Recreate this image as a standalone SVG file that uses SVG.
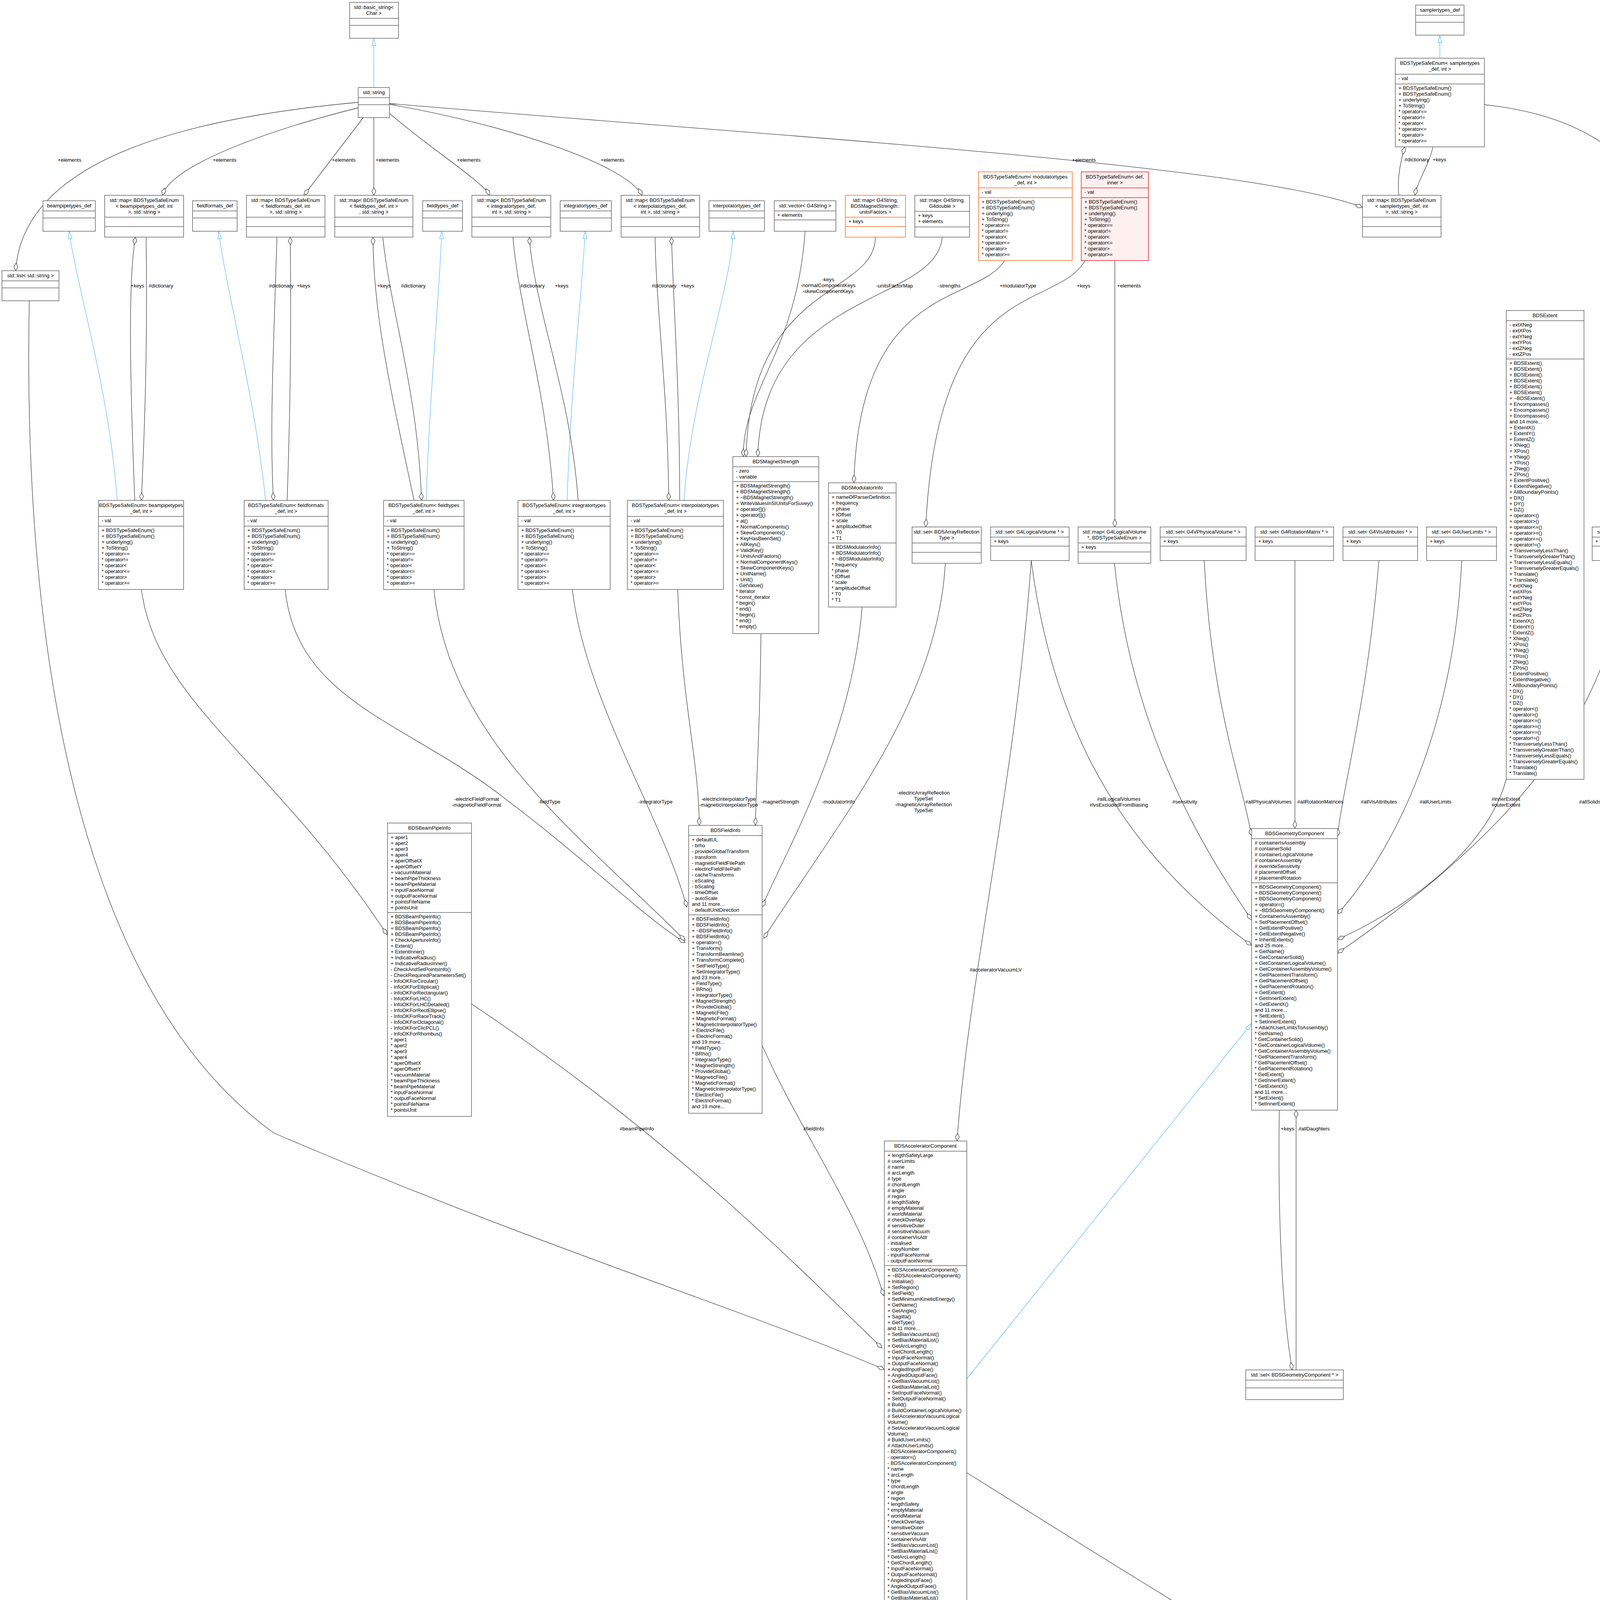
<svg xmlns="http://www.w3.org/2000/svg" width="5002" height="6444" viewBox="0 0 5002 6444">
<defs>
<style>
text{font-family:"Liberation Sans",Arial,sans-serif;font-size:13px;fill:#000}
.c{text-anchor:middle}
rect{fill:#fff;stroke:#666;stroke-width:1.5}
line{stroke:#666;stroke-width:1.5}
.or rect,.or line{stroke:#ff6a1f}
.rd rect{stroke:#e8232d;fill:#fff0f0}.rd line{stroke:#e8232d}
.gr rect{fill:#9a9a9a}
.e path{fill:none;stroke:#404040;stroke-width:1.3;marker-end:url(#dm)}
.i path{fill:none;stroke:#63b8ff;stroke-width:1.3;marker-end:url(#tr)}
.l{text-anchor:middle}
</style>
<marker id="dm" markerUnits="userSpaceOnUse" viewBox="0 0 22 12" refX="21" refY="6" markerWidth="22" markerHeight="12" orient="auto"><path d="M1,6 L11,1 L21,6 L11,11 Z" fill="#fff" stroke="#404040" stroke-width="1.3"/></marker>
<marker id="tr" markerUnits="userSpaceOnUse" viewBox="0 0 20 12" refX="19" refY="6" markerWidth="20" markerHeight="12" orient="auto"><path d="M1,1 L19,6 L1,11 Z" fill="#fff" stroke="#63b8ff" stroke-width="1.3"/></marker>
</defs>
<rect x="0" y="0" width="5002" height="6444" style="fill:#fff;stroke:none"/>

<g id="connectors">
<g class="i">
<path d="M957,224 L957,99"/>
<path d="M300,1281 C280,1000 200,750 177,593"/>
<path d="M680,1281 C650,1000 580,750 560,593"/>
<path d="M1091,1281 C1100,1000 1125,750 1131,593"/>
<path d="M1452,1281 C1460,1000 1490,750 1498,593"/>
<path d="M1751,1281 C1770,1000 1870,750 1877,593"/>
<path d="M3686,149 L3686,91"/>
<path d="M2475,3530 L3204,2620"/>
<path d="M2364,4788 L2364,4169"/>
</g>
<g class="e">
<path d="M917,262 C500,300 60,400 40,693"/>
<path d="M917,276 C700,330 440,420 416,500"/>
<path d="M930,301 L778,500"/>
<path d="M957,301 L957,500"/>
<path d="M997,290 C1100,380 1230,460 1254,500"/>
<path d="M997,267 C1300,320 1600,420 1644,500"/>
<path d="M997,265 C2000,350 3200,420 3488,531"/>
<path d="M345,1281 C330,900 330,700 347,607"/>
<path d="M374,607 C378,900 370,1100 362,1281"/>
<path d="M709,607 C700,900 690,1100 700,1281"/>
<path d="M735,1281 C745,1000 745,800 743,607"/>
<path d="M1060,1281 C1000,1000 955,800 955,607"/>
<path d="M980,607 C1000,800 1070,1000 1079,1281"/>
<path d="M1313,607 C1330,800 1400,1000 1417,1281"/>
<path d="M1480,1281 C1460,1000 1370,800 1355,607"/>
<path d="M1677,607 C1680,800 1710,1000 1712,1281"/>
<path d="M1740,1281 C1740,1000 1725,800 1719,607"/>
<path d="M2061,592 C2040,900 1900,1000 1903,1169"/>
<path d="M2241,607 C2240,760 1920,720 1910,1169"/>
<path d="M2412,607 C2400,780 1950,740 1940,1169"/>
<path d="M2572,667 C2500,780 2200,720 2186,1236"/>
<path d="M2778,667 C2700,800 2400,700 2370,1349"/>
<path d="M2854,667 L2854,1349"/>
<path d="M3581,500 C3575,450 3590,400 3596,376"/>
<path d="M3668,376 C3660,420 3630,460 3622,500"/>
<path d="M3800,268 C4100,300 4271,450 4271,700 L4271,5500 C4271,5560 4290,5570 4300,5590"/>
<path d="M1948,1622 C1945,1900 1935,2000 1934,2113"/>
<path d="M2207,1554 C2180,1900 2000,2200 1951,2322"/>
<path d="M2420,1442 C2400,1800 2150,2100 1955,2402"/>
<path d="M730,1509 C760,1800 1050,1850 1300,2050 C1500,2200 1650,2350 1754,2413"/>
<path d="M1111,1509 C1150,1900 1500,2150 1754,2408"/>
<path d="M1465,1509 C1500,1800 1700,2100 1758,2322"/>
<path d="M1735,1509 C1745,1800 1790,1950 1790,2113"/>
<path d="M362,1509 C400,1800 700,1950 991,2393"/>
<path d="M1207,2570 C1700,2900 2000,3200 2258,3451"/>
<path d="M1951,2676 C2050,2900 2200,3100 2262,3317"/>
<path d="M75,770 C60,1500 150,2500 700,2900 C1400,3200 1900,3350 2264,3506"/>
<path d="M2640,1435 C2600,2000 2480,2500 2450,2921"/>
<path d="M2640,1435 C2700,1900 2900,2200 3204,2420"/>
<path d="M2853,1442 C2900,1900 3100,2200 3204,2355"/>
<path d="M3083,1435 C3100,1800 3180,2000 3204,2140"/>
<path d="M3315,1435 L3315,2121"/>
<path d="M3530,1435 C3500,1800 3440,2000 3424,2141"/>
<path d="M3742,1435 C3720,1900 3550,2200 3424,2340"/>
<path d="M3856,1995 C3800,2200 3550,2350 3424,2405"/>
<path d="M4152,1435 C4150,1900 3700,2250 3424,2440"/>
<path d="M3275,2842 C3270,3200 3290,3400 3308,3507"/>
<path d="M3318,3507 C3318,3200 3318,3000 3318,2842"/>
<path d="M2475,3770 C3000,4100 3800,4600 4309,4816"/>
<path d="M2372,4788 L2372,4168"/>
<path d="M4436,3696 L4436,4248"/>
<path d="M4312,5511 C4310,5560 4307,5570 4306,5590"/>
<path d="M4388,5595 C4420,5570 4420,5540 4423,5511"/>
<path d="M4511,5511 L4518,5619"/>
<path d="M4562,5300 C4620,5420 4700,5560 4702,5619"/>
<path d="M4541,5711 L4617,5876"/>
<path d="M4722,5711 L4722,5805"/>
<path d="M4900,5704 L4827,5866"/>
</g>
<g>
<text class="l" x="178" y="414">+elements</text>
<text class="l" x="575" y="414">+elements</text>
<text class="l" x="880" y="414">+elements</text>
<text class="l" x="992" y="414">+elements</text>
<text class="l" x="1200" y="414">+elements</text>
<text class="l" x="1568" y="414">+elements</text>
<text class="l" x="2775" y="414">+elements</text>
<text class="l" x="352" y="736">+keys</text>
<text class="l" x="412" y="736">#dictionary</text>
<text class="l" x="720" y="736">#dictionary</text>
<text class="l" x="777" y="736">+keys</text>
<text class="l" x="983" y="736">+keys</text>
<text class="l" x="1058" y="736">#dictionary</text>
<text class="l" x="1363" y="736">#dictionary</text>
<text class="l" x="1438" y="736">+keys</text>
<text class="l" x="1700" y="736">#dictionary</text>
<text class="l" x="1760" y="736">+keys</text>
<text class="l" x="2120" y="720">-keys</text>
<text class="l" x="2120" y="735">-normalComponentKeys</text>
<text class="l" x="2120" y="750">-skewComponentKeys</text>
<text class="l" x="2290" y="736">-unitsFactorMap</text>
<text class="l" x="2430" y="736">-strengths</text>
<text class="l" x="2606" y="736">+modulatorType</text>
<text class="l" x="2774" y="736">+keys</text>
<text class="l" x="2890" y="736">+elements</text>
<text class="l" x="3627" y="413">#dictionary</text>
<text class="l" x="3685" y="413">+keys</text>
<text x="4274" y="2487">+samplerType</text>
<text class="l" x="1220" y="2050">-electricFieldFormat</text>
<text class="l" x="1220" y="2065">-magneticFieldFormat</text>
<text class="l" x="1406" y="2057">-fieldType</text>
<text class="l" x="1678" y="2057">-integratorType</text>
<text class="l" x="1865" y="2050">-electricInterpolatorType</text>
<text class="l" x="1865" y="2065">-magneticInterpolatorType</text>
<text class="l" x="1997" y="2057">-magnetStrength</text>
<text class="l" x="2146" y="2057">-modulatorInfo</text>
<text class="l" x="2364" y="2034">-electricArrayReflection</text>
<text class="l" x="2364" y="2049">TypeSet</text>
<text class="l" x="2364" y="2064">-magneticArrayReflection</text>
<text class="l" x="2364" y="2079">TypeSet</text>
<text class="l" x="2549" y="2487">#acceleratorVacuumLV</text>
<text class="l" x="2864" y="2050">#allLogicalVolumes</text>
<text class="l" x="2864" y="2065">#lvsExcludedFromBiasing</text>
<text class="l" x="3033" y="2057">#sensitivity</text>
<text class="l" x="3247" y="2057">#allPhysicalVolumes</text>
<text class="l" x="3380" y="2057">#allRotationMatrices</text>
<text class="l" x="3530" y="2057">#allVisAttributes</text>
<text class="l" x="3675" y="2057">#allUserLimits</text>
<text class="l" x="3855" y="2050">#innerExtent</text>
<text class="l" x="3855" y="2065">#outerExtent</text>
<text class="l" x="4070" y="2057">#allSolids</text>
<text class="l" x="1630" y="2894">#beamPipeInfo</text>
<text class="l" x="2083" y="2894">#fieldInfo</text>
<text class="l" x="3296" y="2894">+keys</text>
<text class="l" x="3364" y="2894">#allDaughters</text>
<text class="l" x="3282" y="4213">-component</text>
<text x="2380" y="4200">#endPieceAfter</text>
<text x="2380" y="4215">#endPieceBefore</text>
<text x="4442" y="4213">-tiltOffset</text>
<text x="4315" y="5547">+finishElement</text>
<text x="4315" y="5562">+startElement</text>
<text x="4420" y="5555">-samplerInfo</text>
<text x="4520" y="5555">+elements</text>
<text x="4685" y="5555">+elements</text>
<text x="4575" y="5778">-components</text>
<text x="4727" y="5778">-beamline</text>
<text x="4872" y="5778">-sEnd</text>
</g>
</g>

<g id="basic_string"><rect x="895" y="6" width="125" height="92"/><line x1="895" y1="47" x2="1020" y2="47"/><line x1="895" y1="65" x2="1020" y2="65"/><text class="c" x="957" y="23">std::basic_string&lt;</text><text class="c" x="957" y="38">Char &gt;</text></g>
<g id="string"><rect x="917" y="224" width="80" height="77"/><line x1="917" y1="250" x2="997" y2="250"/><line x1="917" y1="268" x2="997" y2="268"/><text class="c" x="957" y="241">std::string</text></g>
<g id="list_string"><rect x="5" y="693" width="146" height="77"/><line x1="5" y1="719" x2="151" y2="719"/><line x1="5" y1="737" x2="151" y2="737"/><text class="c" x="78" y="710">std::list&lt; std::string &gt;</text></g>
<g id="beampipetypes_def"><rect x="110" y="514" width="134" height="78"/><line x1="110" y1="540" x2="244" y2="540"/><line x1="110" y1="558" x2="244" y2="558"/><text class="c" x="177" y="531">beampipetypes_def</text></g>
<g id="map_bp"><rect x="268" y="500" width="202" height="107"/><line x1="268" y1="556" x2="470" y2="556"/><line x1="268" y1="580" x2="470" y2="580"/><text class="c" x="369" y="517">std::map&lt; BDSTypeSafeEnum</text><text class="c" x="369" y="532">&lt; beampipetypes_def, int</text><text class="c" x="369" y="547">&gt;, std::string &gt;</text></g>
<g id="fieldformats_def"><rect x="493" y="514" width="114" height="78"/><line x1="493" y1="540" x2="607" y2="540"/><line x1="493" y1="558" x2="607" y2="558"/><text class="c" x="550" y="531">fieldformats_def</text></g>
<g id="map_ff"><rect x="631" y="500" width="201" height="107"/><line x1="631" y1="556" x2="832" y2="556"/><line x1="631" y1="580" x2="832" y2="580"/><text class="c" x="731" y="517">std::map&lt; BDSTypeSafeEnum</text><text class="c" x="731" y="532">&lt; fieldformats_def, int</text><text class="c" x="731" y="547">&gt;, std::string &gt;</text></g>
<g id="map_ft"><rect x="857" y="500" width="200" height="107"/><line x1="857" y1="556" x2="1057" y2="556"/><line x1="857" y1="580" x2="1057" y2="580"/><text class="c" x="957" y="517">std::map&lt; BDSTypeSafeEnum</text><text class="c" x="957" y="532">&lt; fieldtypes_def, int &gt;</text><text class="c" x="957" y="547">, std::string &gt;</text></g>
<g id="fieldtypes_def"><rect x="1082" y="514" width="102" height="78"/><line x1="1082" y1="540" x2="1184" y2="540"/><line x1="1082" y1="558" x2="1184" y2="558"/><text class="c" x="1133" y="531">fieldtypes_def</text></g>
<g id="map_it"><rect x="1208" y="500" width="202" height="107"/><line x1="1208" y1="556" x2="1410" y2="556"/><line x1="1208" y1="580" x2="1410" y2="580"/><text class="c" x="1309" y="517">std::map&lt; BDSTypeSafeEnum</text><text class="c" x="1309" y="532">&lt; integratortypes_def,</text><text class="c" x="1309" y="547">int &gt;, std::string &gt;</text></g>
<g id="integratortypes_def"><rect x="1434" y="514" width="131" height="78"/><line x1="1434" y1="540" x2="1565" y2="540"/><line x1="1434" y1="558" x2="1565" y2="558"/><text class="c" x="1499" y="531">integratortypes_def</text></g>
<g id="map_ip"><rect x="1590" y="500" width="201" height="107"/><line x1="1590" y1="556" x2="1791" y2="556"/><line x1="1590" y1="580" x2="1791" y2="580"/><text class="c" x="1690" y="517">std::map&lt; BDSTypeSafeEnum</text><text class="c" x="1690" y="532">&lt; interpolatortypes_def,</text><text class="c" x="1690" y="547">int &gt;, std::string &gt;</text></g>
<g id="interpolatortypes_def"><rect x="1815" y="514" width="142" height="78"/><line x1="1815" y1="540" x2="1957" y2="540"/><line x1="1815" y1="558" x2="1957" y2="558"/><text class="c" x="1886" y="531">interpolatortypes_def</text></g>
<g id="vector_G4String"><rect x="1982" y="514" width="158" height="78"/><line x1="1982" y1="540" x2="2140" y2="540"/><line x1="1982" y1="563" x2="2140" y2="563"/><text class="c" x="2061" y="531">std::vector&lt; G4String &gt;</text><text x="1990" y="555">+ elements</text></g>
<g id="map_units" class="or"><rect x="2164" y="500" width="154" height="107"/><line x1="2164" y1="556" x2="2318" y2="556"/><line x1="2164" y1="580" x2="2318" y2="580"/><text class="c" x="2241" y="517">std::map&lt; G4String,</text><text class="c" x="2241" y="532">BDSMagnetStrength::</text><text class="c" x="2241" y="547">unitsFactors &gt;</text><text x="2172" y="571">+ keys</text></g>
<g id="map_double"><rect x="2342" y="500" width="140" height="107"/><line x1="2342" y1="541" x2="2482" y2="541"/><line x1="2342" y1="581" x2="2482" y2="581"/><text class="c" x="2412" y="517">std::map&lt; G4String,</text><text class="c" x="2412" y="532">G4double &gt;</text><text x="2350" y="556">+ keys</text><text x="2350" y="571">+ elements</text></g>
<g id="enum_modulator" class="or"><rect x="2505" y="440" width="240" height="227"/><line x1="2505" y1="481" x2="2745" y2="481"/><line x1="2505" y1="506" x2="2745" y2="506"/><text class="c" x="2625" y="457">BDSTypeSafeEnum&lt; modulatortypes</text><text class="c" x="2625" y="472">_def, int &gt;</text><text x="2513" y="496">- val</text><text x="2513" y="506"><tspan x="2513" dy="15">+ BDSTypeSafeEnum()</tspan><tspan x="2513" dy="15">+ BDSTypeSafeEnum()</tspan><tspan x="2513" dy="15">+ underlying()</tspan><tspan x="2513" dy="15">+ ToString()</tspan><tspan x="2513" dy="15">* operator==</tspan><tspan x="2513" dy="15">* operator!=</tspan><tspan x="2513" dy="15">* operator&lt;</tspan><tspan x="2513" dy="15">* operator&lt;=</tspan><tspan x="2513" dy="15">* operator&gt;</tspan><tspan x="2513" dy="15">* operator&gt;=</tspan></text></g>
<g id="enum_def_inner" class="rd"><rect x="2768" y="440" width="172" height="227"/><line x1="2768" y1="481" x2="2940" y2="481"/><line x1="2768" y1="506" x2="2940" y2="506"/><text class="c" x="2854" y="457">BDSTypeSafeEnum&lt; def,</text><text class="c" x="2854" y="472">inner &gt;</text><text x="2776" y="496">- val</text><text x="2776" y="506"><tspan x="2776" dy="15">+ BDSTypeSafeEnum()</tspan><tspan x="2776" dy="15">+ BDSTypeSafeEnum()</tspan><tspan x="2776" dy="15">+ underlying()</tspan><tspan x="2776" dy="15">+ ToString()</tspan><tspan x="2776" dy="15">* operator==</tspan><tspan x="2776" dy="15">* operator!=</tspan><tspan x="2776" dy="15">* operator&lt;</tspan><tspan x="2776" dy="15">* operator&lt;=</tspan><tspan x="2776" dy="15">* operator&gt;</tspan><tspan x="2776" dy="15">* operator&gt;=</tspan></text></g>
<g id="samplertypes_def"><rect x="3624" y="13" width="124" height="77"/><line x1="3624" y1="39" x2="3748" y2="39"/><line x1="3624" y1="57" x2="3748" y2="57"/><text class="c" x="3686" y="30">samplertypes_def</text></g>
<g id="enum_sampler"><rect x="3572" y="149" width="228" height="227"/><line x1="3572" y1="190" x2="3800" y2="190"/><line x1="3572" y1="215" x2="3800" y2="215"/><text class="c" x="3686" y="166">BDSTypeSafeEnum&lt; samplertypes</text><text class="c" x="3686" y="181">_def, int &gt;</text><text x="3580" y="205">- val</text><text x="3580" y="215"><tspan x="3580" dy="15">+ BDSTypeSafeEnum()</tspan><tspan x="3580" dy="15">+ BDSTypeSafeEnum()</tspan><tspan x="3580" dy="15">+ underlying()</tspan><tspan x="3580" dy="15">+ ToString()</tspan><tspan x="3580" dy="15">* operator==</tspan><tspan x="3580" dy="15">* operator!=</tspan><tspan x="3580" dy="15">* operator&lt;</tspan><tspan x="3580" dy="15">* operator&lt;=</tspan><tspan x="3580" dy="15">* operator&gt;</tspan><tspan x="3580" dy="15">* operator&gt;=</tspan></text></g>
<g id="map_samp"><rect x="3488" y="500" width="201" height="107"/><line x1="3488" y1="556" x2="3689" y2="556"/><line x1="3488" y1="580" x2="3689" y2="580"/><text class="c" x="3588" y="517">std::map&lt; BDSTypeSafeEnum</text><text class="c" x="3588" y="532">&lt; samplertypes_def, int</text><text class="c" x="3588" y="547">&gt;, std::string &gt;</text></g>

<g id="enum_bp"><rect x="252" y="1281" width="218" height="228"/><line x1="252" y1="1322" x2="470" y2="1322"/><line x1="252" y1="1347" x2="470" y2="1347"/><text class="c" x="361" y="1298">BDSTypeSafeEnum&lt; beampipetypes</text><text class="c" x="361" y="1313">_def, int &gt;</text><text x="260" y="1337">- val</text><text x="260" y="1347"><tspan x="260" dy="15">+ BDSTypeSafeEnum()</tspan><tspan x="260" dy="15">+ BDSTypeSafeEnum()</tspan><tspan x="260" dy="15">+ underlying()</tspan><tspan x="260" dy="15">+ ToString()</tspan><tspan x="260" dy="15">* operator==</tspan><tspan x="260" dy="15">* operator!=</tspan><tspan x="260" dy="15">* operator&lt;</tspan><tspan x="260" dy="15">* operator&lt;=</tspan><tspan x="260" dy="15">* operator&gt;</tspan><tspan x="260" dy="15">* operator&gt;=</tspan></text></g>
<g id="enum_ff"><rect x="625" y="1281" width="215" height="228"/><line x1="625" y1="1322" x2="840" y2="1322"/><line x1="625" y1="1347" x2="840" y2="1347"/><text class="c" x="732" y="1298">BDSTypeSafeEnum&lt; fieldformats</text><text class="c" x="732" y="1313">_def, int &gt;</text><text x="633" y="1337">- val</text><text x="633" y="1347"><tspan x="633" dy="15">+ BDSTypeSafeEnum()</tspan><tspan x="633" dy="15">+ BDSTypeSafeEnum()</tspan><tspan x="633" dy="15">+ underlying()</tspan><tspan x="633" dy="15">+ ToString()</tspan><tspan x="633" dy="15">* operator==</tspan><tspan x="633" dy="15">* operator!=</tspan><tspan x="633" dy="15">* operator&lt;</tspan><tspan x="633" dy="15">* operator&lt;=</tspan><tspan x="633" dy="15">* operator&gt;</tspan><tspan x="633" dy="15">* operator&gt;=</tspan></text></g>
<g id="enum_ft"><rect x="982" y="1281" width="206" height="228"/><line x1="982" y1="1322" x2="1188" y2="1322"/><line x1="982" y1="1347" x2="1188" y2="1347"/><text class="c" x="1085" y="1298">BDSTypeSafeEnum&lt; fieldtypes</text><text class="c" x="1085" y="1313">_def, int &gt;</text><text x="990" y="1337">- val</text><text x="990" y="1347"><tspan x="990" dy="15">+ BDSTypeSafeEnum()</tspan><tspan x="990" dy="15">+ BDSTypeSafeEnum()</tspan><tspan x="990" dy="15">+ underlying()</tspan><tspan x="990" dy="15">+ ToString()</tspan><tspan x="990" dy="15">* operator==</tspan><tspan x="990" dy="15">* operator!=</tspan><tspan x="990" dy="15">* operator&lt;</tspan><tspan x="990" dy="15">* operator&lt;=</tspan><tspan x="990" dy="15">* operator&gt;</tspan><tspan x="990" dy="15">* operator&gt;=</tspan></text></g>
<g id="enum_it"><rect x="1326" y="1281" width="236" height="228"/><line x1="1326" y1="1322" x2="1562" y2="1322"/><line x1="1326" y1="1347" x2="1562" y2="1347"/><text class="c" x="1444" y="1298">BDSTypeSafeEnum&lt; integratortypes</text><text class="c" x="1444" y="1313">_def, int &gt;</text><text x="1334" y="1337">- val</text><text x="1334" y="1347"><tspan x="1334" dy="15">+ BDSTypeSafeEnum()</tspan><tspan x="1334" dy="15">+ BDSTypeSafeEnum()</tspan><tspan x="1334" dy="15">+ underlying()</tspan><tspan x="1334" dy="15">+ ToString()</tspan><tspan x="1334" dy="15">* operator==</tspan><tspan x="1334" dy="15">* operator!=</tspan><tspan x="1334" dy="15">* operator&lt;</tspan><tspan x="1334" dy="15">* operator&lt;=</tspan><tspan x="1334" dy="15">* operator&gt;</tspan><tspan x="1334" dy="15">* operator&gt;=</tspan></text></g>
<g id="enum_ip"><rect x="1606" y="1281" width="246" height="228"/><line x1="1606" y1="1322" x2="1852" y2="1322"/><line x1="1606" y1="1347" x2="1852" y2="1347"/><text class="c" x="1729" y="1298">BDSTypeSafeEnum&lt; interpolatortypes</text><text class="c" x="1729" y="1313">_def, int &gt;</text><text x="1614" y="1337">- val</text><text x="1614" y="1347"><tspan x="1614" dy="15">+ BDSTypeSafeEnum()</tspan><tspan x="1614" dy="15">+ BDSTypeSafeEnum()</tspan><tspan x="1614" dy="15">+ underlying()</tspan><tspan x="1614" dy="15">+ ToString()</tspan><tspan x="1614" dy="15">* operator==</tspan><tspan x="1614" dy="15">* operator!=</tspan><tspan x="1614" dy="15">* operator&lt;</tspan><tspan x="1614" dy="15">* operator&lt;=</tspan><tspan x="1614" dy="15">* operator&gt;</tspan><tspan x="1614" dy="15">* operator&gt;=</tspan></text></g>

<g id="BDSMagnetStrength"><rect x="1876" y="1169" width="220" height="453"/><line x1="1876" y1="1195" x2="2096" y2="1195"/><line x1="1876" y1="1233" x2="2096" y2="1233"/><text class="c" x="1986" y="1186">BDSMagnetStrength</text><text x="1884" y="1210">- zero<tspan x="1884" dy="15">- variable</tspan></text><text x="1884" y="1233"><tspan x="1884" dy="15">+ BDSMagnetStrength()</tspan><tspan x="1884" dy="15">+ BDSMagnetStrength()</tspan><tspan x="1884" dy="15">+ ~BDSMagnetStrength()</tspan><tspan x="1884" dy="15">+ WriteValuesInSIUnitsForSuvey()</tspan><tspan x="1884" dy="15">+ operator[]()</tspan><tspan x="1884" dy="15">+ operator[]()</tspan><tspan x="1884" dy="15">+ at()</tspan><tspan x="1884" dy="15">+ NormalComponents()</tspan><tspan x="1884" dy="15">+ SkewComponents()</tspan><tspan x="1884" dy="15">+ KeyHasBeenSet()</tspan><tspan x="1884" dy="15">+ AllKeys()</tspan><tspan x="1884" dy="15">+ ValidKey()</tspan><tspan x="1884" dy="15">+ UnitsAndFactors()</tspan><tspan x="1884" dy="15">+ NormalComponentKeys()</tspan><tspan x="1884" dy="15">+ SkewComponentKeys()</tspan><tspan x="1884" dy="15">+ UnitName()</tspan><tspan x="1884" dy="15">+ Unit()</tspan><tspan x="1884" dy="15">- GetValue()</tspan><tspan x="1884" dy="15">* iterator</tspan><tspan x="1884" dy="15">* const_iterator</tspan><tspan x="1884" dy="15">* begin()</tspan><tspan x="1884" dy="15">* end()</tspan><tspan x="1884" dy="15">* begin()</tspan><tspan x="1884" dy="15">* end()</tspan><tspan x="1884" dy="15">* empty()</tspan></text></g>
<g id="BDSModulatorInfo"><rect x="2121" y="1236" width="173" height="318"/><line x1="2121" y1="1262" x2="2294" y2="1262"/><line x1="2121" y1="1390" x2="2294" y2="1390"/><text class="c" x="2207" y="1253">BDSModulatorInfo</text><text x="2129" y="1262"><tspan x="2129" dy="15">+ nameOfParserDefinition</tspan><tspan x="2129" dy="15">+ frequency</tspan><tspan x="2129" dy="15">+ phase</tspan><tspan x="2129" dy="15">+ tOffset</tspan><tspan x="2129" dy="15">+ scale</tspan><tspan x="2129" dy="15">+ amplitudeOffset</tspan><tspan x="2129" dy="15">+ T0</tspan><tspan x="2129" dy="15">+ T1</tspan></text><text x="2129" y="1390"><tspan x="2129" dy="15">+ BDSModulatorInfo()</tspan><tspan x="2129" dy="15">+ BDSModulatorInfo()</tspan><tspan x="2129" dy="15">+ ~BDSModulatorInfo()</tspan><tspan x="2129" dy="15">* frequency</tspan><tspan x="2129" dy="15">* phase</tspan><tspan x="2129" dy="15">* tOffset</tspan><tspan x="2129" dy="15">* scale</tspan><tspan x="2129" dy="15">* amplitudeOffset</tspan><tspan x="2129" dy="15">* T0</tspan><tspan x="2129" dy="15">* T1</tspan></text></g>
<g id="set_ArrayRefl"><rect x="2335" y="1349" width="177" height="93"/><line x1="2335" y1="1390" x2="2512" y2="1390"/><line x1="2335" y1="1414" x2="2512" y2="1414"/><text class="c" x="2423" y="1366">std::set&lt; BDSArrayReflection</text><text class="c" x="2423" y="1381">Type &gt;</text></g>
<g id="set_LV"><rect x="2536" y="1349" width="201" height="86"/><line x1="2536" y1="1375" x2="2737" y2="1375"/><line x1="2536" y1="1398" x2="2737" y2="1398"/><text class="c" x="2636" y="1366">std::set&lt; G4LogicalVolume * &gt;</text><text x="2544" y="1390">+ keys</text></g>
<g id="map_LV_enum"><rect x="2760" y="1349" width="186" height="93"/><line x1="2760" y1="1390" x2="2946" y2="1390"/><line x1="2760" y1="1413" x2="2946" y2="1413"/><text class="c" x="2853" y="1366">std::map&lt; G4LogicalVolume</text><text class="c" x="2853" y="1381">*, BDSTypeSafeEnum &gt;</text><text x="2768" y="1405">+ keys</text></g>
<g id="set_PV"><rect x="2970" y="1349" width="220" height="86"/><line x1="2970" y1="1375" x2="3190" y2="1375"/><line x1="2970" y1="1398" x2="3190" y2="1398"/><text class="c" x="3080" y="1366">std::set&lt; G4VPhysicalVolume * &gt;</text><text x="2978" y="1390">+ keys</text></g>
<g id="set_Rot"><rect x="3213" y="1349" width="201" height="86"/><line x1="3213" y1="1375" x2="3414" y2="1375"/><line x1="3213" y1="1398" x2="3414" y2="1398"/><text class="c" x="3313" y="1366">std::set&lt; G4RotationMatrix * &gt;</text><text x="3221" y="1390">+ keys</text></g>
<g id="set_Vis"><rect x="3438" y="1349" width="191" height="86"/><line x1="3438" y1="1375" x2="3629" y2="1375"/><line x1="3438" y1="1398" x2="3629" y2="1398"/><text class="c" x="3533" y="1366">std::set&lt; G4VisAttributes * &gt;</text><text x="3446" y="1390">+ keys</text></g>
<g id="set_UL"><rect x="3652" y="1349" width="179" height="86"/><line x1="3652" y1="1375" x2="3831" y2="1375"/><line x1="3652" y1="1398" x2="3831" y2="1398"/><text class="c" x="3741" y="1366">std::set&lt; G4UserLimits * &gt;</text><text x="3660" y="1390">+ keys</text></g>
<g id="set_Solid"><rect x="4076" y="1349" width="154" height="86"/><line x1="4076" y1="1375" x2="4230" y2="1375"/><line x1="4076" y1="1398" x2="4230" y2="1398"/><text class="c" x="4153" y="1366">std::set&lt; G4VSolid * &gt;</text><text x="4084" y="1390">+ keys</text></g>

<g id="BDSExtent"><rect x="3856" y="795" width="199" height="1200"/><line x1="3856" y1="821" x2="4055" y2="821"/><line x1="3856" y1="919" x2="4055" y2="919"/><text class="c" x="3955" y="812">BDSExtent</text><text x="3864" y="821"><tspan x="3864" dy="15">- extXNeg</tspan><tspan x="3864" dy="15">- extXPos</tspan><tspan x="3864" dy="15">- extYNeg</tspan><tspan x="3864" dy="15">- extYPos</tspan><tspan x="3864" dy="15">- extZNeg</tspan><tspan x="3864" dy="15">- extZPos</tspan></text><text x="3864" y="919"><tspan x="3864" dy="15">+ BDSExtent()</tspan><tspan x="3864" dy="15">+ BDSExtent()</tspan><tspan x="3864" dy="15">+ BDSExtent()</tspan><tspan x="3864" dy="15">+ BDSExtent()</tspan><tspan x="3864" dy="15">+ BDSExtent()</tspan><tspan x="3864" dy="15">+ BDSExtent()</tspan><tspan x="3864" dy="15">+ ~BDSExtent()</tspan><tspan x="3864" dy="15">+ Encompasses()</tspan><tspan x="3864" dy="15">+ Encompasses()</tspan><tspan x="3864" dy="15">+ Encompasses()</tspan><tspan x="3864" dy="15">and 14 more...</tspan><tspan x="3864" dy="15">+ ExtentX()</tspan><tspan x="3864" dy="15">+ ExtentY()</tspan><tspan x="3864" dy="15">+ ExtentZ()</tspan><tspan x="3864" dy="15">+ XNeg()</tspan><tspan x="3864" dy="15">+ XPos()</tspan><tspan x="3864" dy="15">+ YNeg()</tspan><tspan x="3864" dy="15">+ YPos()</tspan><tspan x="3864" dy="15">+ ZNeg()</tspan><tspan x="3864" dy="15">+ ZPos()</tspan><tspan x="3864" dy="15">+ ExtentPositive()</tspan><tspan x="3864" dy="15">+ ExtentNegative()</tspan><tspan x="3864" dy="15">+ AllBoundaryPoints()</tspan><tspan x="3864" dy="15">+ DX()</tspan><tspan x="3864" dy="15">+ DY()</tspan><tspan x="3864" dy="15">+ DZ()</tspan><tspan x="3864" dy="15">+ operator&lt;()</tspan><tspan x="3864" dy="15">+ operator&gt;()</tspan><tspan x="3864" dy="15">+ operator&lt;=()</tspan><tspan x="3864" dy="15">+ operator&gt;=()</tspan><tspan x="3864" dy="15">+ operator==()</tspan><tspan x="3864" dy="15">+ operator!=()</tspan><tspan x="3864" dy="15">+ TransverselyLessThan()</tspan><tspan x="3864" dy="15">+ TransverselyGreaterThan()</tspan><tspan x="3864" dy="15">+ TransverselyLessEquals()</tspan><tspan x="3864" dy="15">+ TransverselyGreaterEquals()</tspan><tspan x="3864" dy="15">+ Translate()</tspan><tspan x="3864" dy="15">+ Translate()</tspan><tspan x="3864" dy="15">* extXNeg</tspan><tspan x="3864" dy="15">* extXPos</tspan><tspan x="3864" dy="15">* extYNeg</tspan><tspan x="3864" dy="15">* extYPos</tspan><tspan x="3864" dy="15">* extZNeg</tspan><tspan x="3864" dy="15">* extZPos</tspan><tspan x="3864" dy="15">* ExtentX()</tspan><tspan x="3864" dy="15">* ExtentY()</tspan><tspan x="3864" dy="15">* ExtentZ()</tspan><tspan x="3864" dy="15">* XNeg()</tspan><tspan x="3864" dy="15">* XPos()</tspan><tspan x="3864" dy="15">* YNeg()</tspan><tspan x="3864" dy="15">* YPos()</tspan><tspan x="3864" dy="15">* ZNeg()</tspan><tspan x="3864" dy="15">* ZPos()</tspan><tspan x="3864" dy="15">* ExtentPositive()</tspan><tspan x="3864" dy="15">* ExtentNegative()</tspan><tspan x="3864" dy="15">* AllBoundaryPoints()</tspan><tspan x="3864" dy="15">* DX()</tspan><tspan x="3864" dy="15">* DY()</tspan><tspan x="3864" dy="15">* DZ()</tspan><tspan x="3864" dy="15">* operator&lt;()</tspan><tspan x="3864" dy="15">* operator&gt;()</tspan><tspan x="3864" dy="15">* operator&lt;=()</tspan><tspan x="3864" dy="15">* operator&gt;=()</tspan><tspan x="3864" dy="15">* operator==()</tspan><tspan x="3864" dy="15">* operator!=()</tspan><tspan x="3864" dy="15">* TransverselyLessThan()</tspan><tspan x="3864" dy="15">* TransverselyGreaterThan()</tspan><tspan x="3864" dy="15">* TransverselyLessEquals()</tspan><tspan x="3864" dy="15">* TransverselyGreaterEquals()</tspan><tspan x="3864" dy="15">* Translate()</tspan><tspan x="3864" dy="15">* Translate()</tspan></text></g>

<g id="BDSFieldInfo"><rect x="1763" y="2113" width="188" height="737"/><line x1="1763" y1="2139" x2="1951" y2="2139"/><line x1="1763" y1="2342" x2="1951" y2="2342"/><text class="c" x="1857" y="2130">BDSFieldInfo</text><text x="1771" y="2139"><tspan x="1771" dy="15">+ defaultUL</tspan><tspan x="1771" dy="15">- brho</tspan><tspan x="1771" dy="15">- provideGlobalTransform</tspan><tspan x="1771" dy="15">- transform</tspan><tspan x="1771" dy="15">- magneticFieldFilePath</tspan><tspan x="1771" dy="15">- electricFieldFilePath</tspan><tspan x="1771" dy="15">- cacheTransforms</tspan><tspan x="1771" dy="15">- eScaling</tspan><tspan x="1771" dy="15">- bScaling</tspan><tspan x="1771" dy="15">- timeOffset</tspan><tspan x="1771" dy="15">- autoScale</tspan><tspan x="1771" dy="15">and 11 more...</tspan><tspan x="1771" dy="15">- defaultUnitDirection</tspan></text><text x="1771" y="2342"><tspan x="1771" dy="15">+ BDSFieldInfo()</tspan><tspan x="1771" dy="15">+ BDSFieldInfo()</tspan><tspan x="1771" dy="15">+ ~BDSFieldInfo()</tspan><tspan x="1771" dy="15">+ BDSFieldInfo()</tspan><tspan x="1771" dy="15">+ operator=()</tspan><tspan x="1771" dy="15">+ Transform()</tspan><tspan x="1771" dy="15">+ TransformBeamline()</tspan><tspan x="1771" dy="15">+ TransformComplete()</tspan><tspan x="1771" dy="15">+ SetFieldType()</tspan><tspan x="1771" dy="15">+ SetIntegratorType()</tspan><tspan x="1771" dy="15">and 23 more...</tspan><tspan x="1771" dy="15">+ FieldType()</tspan><tspan x="1771" dy="15">+ BRho()</tspan><tspan x="1771" dy="15">+ IntegratorType()</tspan><tspan x="1771" dy="15">+ MagnetStrength()</tspan><tspan x="1771" dy="15">+ ProvideGlobal()</tspan><tspan x="1771" dy="15">+ MagneticFile()</tspan><tspan x="1771" dy="15">+ MagneticFormat()</tspan><tspan x="1771" dy="15">+ MagneticInterpolatorType()</tspan><tspan x="1771" dy="15">+ ElectricFile()</tspan><tspan x="1771" dy="15">+ ElectricFormat()</tspan><tspan x="1771" dy="15">and 19 more...</tspan><tspan x="1771" dy="15">* FieldType()</tspan><tspan x="1771" dy="15">* BRho()</tspan><tspan x="1771" dy="15">* IntegratorType()</tspan><tspan x="1771" dy="15">* MagnetStrength()</tspan><tspan x="1771" dy="15">* ProvideGlobal()</tspan><tspan x="1771" dy="15">* MagneticFile()</tspan><tspan x="1771" dy="15">* MagneticFormat()</tspan><tspan x="1771" dy="15">* MagneticInterpolatorType()</tspan><tspan x="1771" dy="15">* ElectricFile()</tspan><tspan x="1771" dy="15">* ElectricFormat()</tspan><tspan x="1771" dy="15">and 19 more...</tspan></text></g>

<g id="BDSBeamPipeInfo"><rect x="992" y="2107" width="215" height="751"/><line x1="992" y1="2133" x2="1207" y2="2133"/><line x1="992" y1="2336" x2="1207" y2="2336"/><text class="c" x="1099" y="2124">BDSBeamPipeInfo</text><text x="1000" y="2133"><tspan x="1000" dy="15">+ aper1</tspan><tspan x="1000" dy="15">+ aper2</tspan><tspan x="1000" dy="15">+ aper3</tspan><tspan x="1000" dy="15">+ aper4</tspan><tspan x="1000" dy="15">+ aperOffsetX</tspan><tspan x="1000" dy="15">+ aperOffsetY</tspan><tspan x="1000" dy="15">+ vacuumMaterial</tspan><tspan x="1000" dy="15">+ beamPipeThickness</tspan><tspan x="1000" dy="15">+ beamPipeMaterial</tspan><tspan x="1000" dy="15">+ inputFaceNormal</tspan><tspan x="1000" dy="15">+ outputFaceNormal</tspan><tspan x="1000" dy="15">+ pointsFileName</tspan><tspan x="1000" dy="15">+ pointsUnit</tspan></text><text x="1000" y="2336"><tspan x="1000" dy="15">+ BDSBeamPipeInfo()</tspan><tspan x="1000" dy="15">+ BDSBeamPipeInfo()</tspan><tspan x="1000" dy="15">+ BDSBeamPipeInfo()</tspan><tspan x="1000" dy="15">+ BDSBeamPipeInfo()</tspan><tspan x="1000" dy="15">+ CheckApertureInfo()</tspan><tspan x="1000" dy="15">+ Extent()</tspan><tspan x="1000" dy="15">+ ExtentInner()</tspan><tspan x="1000" dy="15">+ IndicativeRadius()</tspan><tspan x="1000" dy="15">+ IndicativeRadiusInner()</tspan><tspan x="1000" dy="15">- CheckAndSetPointsInfo()</tspan><tspan x="1000" dy="15">- CheckRequiredParametersSet()</tspan><tspan x="1000" dy="15">- InfoOKForCircular()</tspan><tspan x="1000" dy="15">- InfoOKForElliptical()</tspan><tspan x="1000" dy="15">- InfoOKForRectangular()</tspan><tspan x="1000" dy="15">- InfoOKForLHC()</tspan><tspan x="1000" dy="15">- InfoOKForLHCDetailed()</tspan><tspan x="1000" dy="15">- InfoOKForRectEllipse()</tspan><tspan x="1000" dy="15">- InfoOKForRaceTrack()</tspan><tspan x="1000" dy="15">- InfoOKForOctagonal()</tspan><tspan x="1000" dy="15">- InfoOKForClicPCL()</tspan><tspan x="1000" dy="15">- InfoOKForRhombus()</tspan><tspan x="1000" dy="15">* aper1</tspan><tspan x="1000" dy="15">* aper2</tspan><tspan x="1000" dy="15">* aper3</tspan><tspan x="1000" dy="15">* aper4</tspan><tspan x="1000" dy="15">* aperOffsetX</tspan><tspan x="1000" dy="15">* aperOffsetY</tspan><tspan x="1000" dy="15">* vacuumMaterial</tspan><tspan x="1000" dy="15">* beamPipeThickness</tspan><tspan x="1000" dy="15">* beamPipeMaterial</tspan><tspan x="1000" dy="15">* inputFaceNormal</tspan><tspan x="1000" dy="15">* outputFaceNormal</tspan><tspan x="1000" dy="15">* pointsFileName</tspan><tspan x="1000" dy="15">* pointsUnit</tspan></text></g>

<g id="BDSGeometryComponent"><rect x="3204" y="2121" width="220" height="721"/><line x1="3204" y1="2147" x2="3424" y2="2147"/><line x1="3204" y1="2260" x2="3424" y2="2260"/><text class="c" x="3314" y="2138">BDSGeometryComponent</text><text x="3212" y="2147"><tspan x="3212" dy="15"># containerIsAssembly</tspan><tspan x="3212" dy="15"># containerSolid</tspan><tspan x="3212" dy="15"># containerLogicalVolume</tspan><tspan x="3212" dy="15"># containerAssembly</tspan><tspan x="3212" dy="15"># overrideSensitivity</tspan><tspan x="3212" dy="15"># placementOffset</tspan><tspan x="3212" dy="15"># placementRotation</tspan></text><text x="3212" y="2260"><tspan x="3212" dy="15">+ BDSGeometryComponent()</tspan><tspan x="3212" dy="15">+ BDSGeometryComponent()</tspan><tspan x="3212" dy="15">+ BDSGeometryComponent()</tspan><tspan x="3212" dy="15">+ operator=()</tspan><tspan x="3212" dy="15">+ ~BDSGeometryComponent()</tspan><tspan x="3212" dy="15">+ ContainerIsAssembly()</tspan><tspan x="3212" dy="15">+ SetPlacementOffset()</tspan><tspan x="3212" dy="15">+ GetExtentPositive()</tspan><tspan x="3212" dy="15">+ GetExtentNegative()</tspan><tspan x="3212" dy="15">+ InheritExtents()</tspan><tspan x="3212" dy="15">and 25 more...</tspan><tspan x="3212" dy="15">+ GetName()</tspan><tspan x="3212" dy="15">+ GetContainerSolid()</tspan><tspan x="3212" dy="15">+ GetContainerLogicalVolume()</tspan><tspan x="3212" dy="15">+ GetContainerAssemblyVolume()</tspan><tspan x="3212" dy="15">+ GetPlacementTransform()</tspan><tspan x="3212" dy="15">+ GetPlacementOffset()</tspan><tspan x="3212" dy="15">+ GetPlacementRotation()</tspan><tspan x="3212" dy="15">+ GetExtent()</tspan><tspan x="3212" dy="15">+ GetInnerExtent()</tspan><tspan x="3212" dy="15">+ GetExtentX()</tspan><tspan x="3212" dy="15">and 11 more...</tspan><tspan x="3212" dy="15">+ SetExtent()</tspan><tspan x="3212" dy="15">+ SetInnerExtent()</tspan><tspan x="3212" dy="15">+ AttachUserLimitsToAssembly()</tspan><tspan x="3212" dy="15">* GetName()</tspan><tspan x="3212" dy="15">* GetContainerSolid()</tspan><tspan x="3212" dy="15">* GetContainerLogicalVolume()</tspan><tspan x="3212" dy="15">* GetContainerAssemblyVolume()</tspan><tspan x="3212" dy="15">* GetPlacementTransform()</tspan><tspan x="3212" dy="15">* GetPlacementOffset()</tspan><tspan x="3212" dy="15">* GetPlacementRotation()</tspan><tspan x="3212" dy="15">* GetExtent()</tspan><tspan x="3212" dy="15">* GetInnerExtent()</tspan><tspan x="3212" dy="15">* GetExtentX()</tspan><tspan x="3212" dy="15">and 11 more...</tspan><tspan x="3212" dy="15">* SetExtent()</tspan><tspan x="3212" dy="15">* SetInnerExtent()</tspan></text></g>
<g id="set_GC"><rect x="3189" y="3507" width="250" height="76"/><line x1="3189" y1="3533" x2="3439" y2="3533"/><line x1="3189" y1="3553" x2="3439" y2="3553"/><text class="c" x="3314" y="3524">std::set&lt; BDSGeometryComponent * &gt;</text></g>

<g id="BDSAcceleratorComponent"><rect x="2264" y="2921" width="211" height="1247"/><line x1="2264" y1="2947" x2="2475" y2="2947"/><line x1="2264" y1="3240" x2="2475" y2="3240"/><text class="c" x="2369" y="2938">BDSAcceleratorComponent</text><text x="2272" y="2947"><tspan x="2272" dy="15">+ lengthSafetyLarge</tspan><tspan x="2272" dy="15"># userLimits</tspan><tspan x="2272" dy="15"># name</tspan><tspan x="2272" dy="15"># arcLength</tspan><tspan x="2272" dy="15"># type</tspan><tspan x="2272" dy="15"># chordLength</tspan><tspan x="2272" dy="15"># angle</tspan><tspan x="2272" dy="15"># region</tspan><tspan x="2272" dy="15"># lengthSafety</tspan><tspan x="2272" dy="15"># emptyMaterial</tspan><tspan x="2272" dy="15"># worldMaterial</tspan><tspan x="2272" dy="15"># checkOverlaps</tspan><tspan x="2272" dy="15"># sensitiveOuter</tspan><tspan x="2272" dy="15"># sensitiveVacuum</tspan><tspan x="2272" dy="15"># containerVisAttr</tspan><tspan x="2272" dy="15">- initialised</tspan><tspan x="2272" dy="15">- copyNumber</tspan><tspan x="2272" dy="15">- inputFaceNormal</tspan><tspan x="2272" dy="15">- outputFaceNormal</tspan></text><text x="2272" y="3240"><tspan x="2272" dy="15">+ BDSAcceleratorComponent()</tspan><tspan x="2272" dy="15">+ ~BDSAcceleratorComponent()</tspan><tspan x="2272" dy="15">+ Initialise()</tspan><tspan x="2272" dy="15">+ SetRegion()</tspan><tspan x="2272" dy="15">+ SetField()</tspan><tspan x="2272" dy="15">+ SetMinimumKineticEnergy()</tspan><tspan x="2272" dy="15">+ GetName()</tspan><tspan x="2272" dy="15">+ GetAngle()</tspan><tspan x="2272" dy="15">+ Sagitta()</tspan><tspan x="2272" dy="15">+ GetType()</tspan><tspan x="2272" dy="15">and 11 more...</tspan><tspan x="2272" dy="15">+ SetBiasVacuumList()</tspan><tspan x="2272" dy="15">+ SetBiasMaterialList()</tspan><tspan x="2272" dy="15">+ GetArcLength()</tspan><tspan x="2272" dy="15">+ GetChordLength()</tspan><tspan x="2272" dy="15">+ InputFaceNormal()</tspan><tspan x="2272" dy="15">+ OutputFaceNormal()</tspan><tspan x="2272" dy="15">+ AngledInputFace()</tspan><tspan x="2272" dy="15">+ AngledOutputFace()</tspan><tspan x="2272" dy="15">+ GetBiasVacuumList()</tspan><tspan x="2272" dy="15">+ GetBiasMaterialList()</tspan><tspan x="2272" dy="15">+ SetInputFaceNormal()</tspan><tspan x="2272" dy="15">+ SetOutputFaceNormal()</tspan><tspan x="2272" dy="15"># Build()</tspan><tspan x="2272" dy="15"># BuildContainerLogicalVolume()</tspan><tspan x="2272" dy="15"># SetAcceleratorVacuumLogical</tspan><tspan x="2272" dy="15">Volume()</tspan><tspan x="2272" dy="15"># SetAcceleratorVacuumLogical</tspan><tspan x="2272" dy="15">Volume()</tspan><tspan x="2272" dy="15"># BuildUserLimits()</tspan><tspan x="2272" dy="15"># AttachUserLimits()</tspan><tspan x="2272" dy="15">- BDSAcceleratorComponent()</tspan><tspan x="2272" dy="15">- operator=()</tspan><tspan x="2272" dy="15">- BDSAcceleratorComponent()</tspan><tspan x="2272" dy="15">* name</tspan><tspan x="2272" dy="15">* arcLength</tspan><tspan x="2272" dy="15">* type</tspan><tspan x="2272" dy="15">* chordLength</tspan><tspan x="2272" dy="15">* angle</tspan><tspan x="2272" dy="15">* region</tspan><tspan x="2272" dy="15">* lengthSafety</tspan><tspan x="2272" dy="15">* emptyMaterial</tspan><tspan x="2272" dy="15">* worldMaterial</tspan><tspan x="2272" dy="15">* checkOverlaps</tspan><tspan x="2272" dy="15">* sensitiveOuter</tspan><tspan x="2272" dy="15">* sensitiveVacuum</tspan><tspan x="2272" dy="15">* containerVisAttr</tspan><tspan x="2272" dy="15">* SetBiasVacuumList()</tspan><tspan x="2272" dy="15">* SetBiasMaterialList()</tspan><tspan x="2272" dy="15">* GetArcLength()</tspan><tspan x="2272" dy="15">* GetChordLength()</tspan><tspan x="2272" dy="15">* InputFaceNormal()</tspan><tspan x="2272" dy="15">* OutputFaceNormal()</tspan><tspan x="2272" dy="15">* AngledInputFace()</tspan><tspan x="2272" dy="15">* AngledOutputFace()</tspan><tspan x="2272" dy="15">* GetBiasVacuumList()</tspan><tspan x="2272" dy="15">* GetBiasMaterialList()</tspan><tspan x="2272" dy="15">* SetInputFaceNormal()</tspan><tspan x="2272" dy="15">* SetOutputFaceNormal()</tspan><tspan x="2272" dy="15">* operator=()</tspan><tspan x="2272" dy="15">* BDSAcceleratorComponent()</tspan></text></g>

<g id="BDSSimpleComponent"><rect x="2265" y="4788" width="211" height="178"/><line x1="2265" y1="4814" x2="2476" y2="4814"/><line x1="2265" y1="4832" x2="2476" y2="4832"/><text class="c" x="2370" y="4805">BDSSimpleComponent</text><text x="2273" y="4832"><tspan x="2273" dy="15">+ BDSSimpleComponent()</tspan><tspan x="2273" dy="15">+ BDSSimpleComponent()</tspan><tspan x="2273" dy="15">+ ~BDSSimpleComponent()</tspan><tspan x="2273" dy="15">+ BDSSimpleComponent()</tspan><tspan x="2273" dy="15">+ operator=()</tspan><tspan x="2273" dy="15">+ BDSSimpleComponent()</tspan><tspan x="2273" dy="15"># Build()</tspan><tspan x="2273" dy="15">- BuildContainerLogicalVolume()</tspan></text></g>

<g id="BDSTiltOffset"><rect x="4369" y="3395" width="134" height="301"/><line x1="4369" y1="3421" x2="4503" y2="3421"/><line x1="4369" y1="3474" x2="4503" y2="3474"/><text class="c" x="4436" y="3412">BDSTiltOffset</text><text x="4377" y="3421"><tspan x="4377" dy="15">- dx</tspan><tspan x="4377" dy="15">- dy</tspan><tspan x="4377" dy="15">- tilt</tspan></text><text x="4377" y="3474"><tspan x="4377" dy="15">+ BDSTiltOffset()</tspan><tspan x="4377" dy="15">+ BDSTiltOffset()</tspan><tspan x="4377" dy="15">+ GetOffset()</tspan><tspan x="4377" dy="15">+ Transform3D()</tspan><tspan x="4377" dy="15">+ GetXOffset()</tspan><tspan x="4377" dy="15">+ GetYOffset()</tspan><tspan x="4377" dy="15">+ GetTilt()</tspan><tspan x="4377" dy="15">+ HasFiniteOffset()</tspan><tspan x="4377" dy="15">+ HasFiniteTilt()</tspan><tspan x="4377" dy="15">* GetXOffset()</tspan><tspan x="4377" dy="15">* GetYOffset()</tspan><tspan x="4377" dy="15">* GetTilt()</tspan><tspan x="4377" dy="15">* HasFiniteOffset()</tspan><tspan x="4377" dy="15">* HasFiniteTilt()</tspan></text></g>

<g id="BDSBeamlineElement"><rect x="4309" y="4248" width="253" height="1263"/><line x1="4309" y1="4274" x2="4562" y2="4274"/><line x1="4309" y1="4597" x2="4562" y2="4597"/><text class="c" x="4435" y="4265">BDSBeamlineElement</text><text x="4317" y="4274"><tspan x="4317" dy="15">- placementName</tspan><tspan x="4317" dy="15">- copyNumber</tspan><tspan x="4317" dy="15">- placementTransform</tspan><tspan x="4317" dy="15">- placementTransformCL</tspan><tspan x="4317" dy="15">- samplerPlacementTransform</tspan><tspan x="4317" dy="15">- index</tspan><tspan x="4317" dy="15">- positionStart</tspan><tspan x="4317" dy="15">- positionMiddle</tspan><tspan x="4317" dy="15">- positionEnd</tspan><tspan x="4317" dy="15">- rotationStart</tspan><tspan x="4317" dy="15">- rotationMiddle</tspan><tspan x="4317" dy="15">- rotationEnd</tspan><tspan x="4317" dy="15">- referencePositionStart</tspan><tspan x="4317" dy="15">- referencePositionMiddle</tspan><tspan x="4317" dy="15">- referencePositionEnd</tspan><tspan x="4317" dy="15">- referenceRotationStart</tspan><tspan x="4317" dy="15">- referenceRotationMiddle</tspan><tspan x="4317" dy="15">- referenceRotationEnd</tspan><tspan x="4317" dy="15">- sPositionStart</tspan><tspan x="4317" dy="15">- sPositionMiddle</tspan><tspan x="4317" dy="15">- sPositionEnd</tspan></text><text x="4317" y="4597"><tspan x="4317" dy="15">+ BDSBeamlineElement()</tspan><tspan x="4317" dy="15">+ BDSBeamlineElement()</tspan><tspan x="4317" dy="15">+ operator=()</tspan><tspan x="4317" dy="15">+ BDSBeamlineElement()</tspan><tspan x="4317" dy="15">+ ~BDSBeamlineElement()</tspan><tspan x="4317" dy="15">+ PlaceElement()</tspan><tspan x="4317" dy="15">+ GetExtentGlobal()</tspan><tspan x="4317" dy="15">+ GetTilt()</tspan><tspan x="4317" dy="15">+ UpdateSamplerPlacementTransform()</tspan><tspan x="4317" dy="15">+ Overlaps()</tspan><tspan x="4317" dy="15">+ GetAcceleratorComponent()</tspan><tspan x="4317" dy="15">+ GetName()</tspan><tspan x="4317" dy="15">+ GetType()</tspan><tspan x="4317" dy="15">+ GetArcLength()</tspan><tspan x="4317" dy="15">+ GetChordLength()</tspan><tspan x="4317" dy="15">+ GetAngle()</tspan><tspan x="4317" dy="15">+ GetBeamPipeInfo()</tspan><tspan x="4317" dy="15">+ GetExtent()</tspan><tspan x="4317" dy="15">+ GetPlacementName()</tspan><tspan x="4317" dy="15">+ GetCopyNo()</tspan><tspan x="4317" dy="15">and 23 more...</tspan><tspan x="4317" dy="15">+ InputFaceNormal()</tspan><tspan x="4317" dy="15">+ OutputFaceNormal()</tspan><tspan x="4317" dy="15">+ AngledInputFace()</tspan><tspan x="4317" dy="15">+ AngledOutputFace()</tspan><tspan x="4317" dy="15">+ SetReferencePositionEnd()</tspan><tspan x="4317" dy="15">+ SetReferenceRotationEnd()</tspan><tspan x="4317" dy="15">+ GetPVsFromAssembly()</tspan><tspan x="4317" dy="15">* positionStart</tspan><tspan x="4317" dy="15">* positionMiddle</tspan><tspan x="4317" dy="15">* positionEnd</tspan><tspan x="4317" dy="15">* rotationStart</tspan><tspan x="4317" dy="15">* rotationMiddle</tspan><tspan x="4317" dy="15">* rotationEnd</tspan><tspan x="4317" dy="15">* referencePositionStart</tspan><tspan x="4317" dy="15">* referencePositionMiddle</tspan><tspan x="4317" dy="15">* referencePositionEnd</tspan><tspan x="4317" dy="15">* referenceRotationStart</tspan><tspan x="4317" dy="15">* referenceRotationMiddle</tspan><tspan x="4317" dy="15">* referenceRotationEnd</tspan><tspan x="4317" dy="15">* sPositionStart</tspan><tspan x="4317" dy="15">* sPositionMiddle</tspan><tspan x="4317" dy="15">* sPositionEnd</tspan><tspan x="4317" dy="15">* GetAcceleratorComponent()</tspan><tspan x="4317" dy="15">* GetName()</tspan><tspan x="4317" dy="15">* GetType()</tspan><tspan x="4317" dy="15">* GetArcLength()</tspan><tspan x="4317" dy="15">* GetChordLength()</tspan><tspan x="4317" dy="15">* GetAngle()</tspan><tspan x="4317" dy="15">* GetBeamPipeInfo()</tspan><tspan x="4317" dy="15">* GetExtent()</tspan><tspan x="4317" dy="15">* GetPlacementName()</tspan><tspan x="4317" dy="15">* GetCopyNo()</tspan><tspan x="4317" dy="15">and 23 more...</tspan><tspan x="4317" dy="15">* InputFaceNormal()</tspan><tspan x="4317" dy="15">* OutputFaceNormal()</tspan><tspan x="4317" dy="15">* AngledInputFace()</tspan><tspan x="4317" dy="15">* AngledOutputFace()</tspan><tspan x="4317" dy="15">* SetReferencePositionEnd()</tspan><tspan x="4317" dy="15">* SetReferenceRotationEnd()</tspan></text></g>

<g id="BDSSamplerInfo"><rect x="4240" y="5590" width="148" height="151"/><line x1="4240" y1="5616" x2="4388" y2="5616"/><line x1="4240" y1="5654" x2="4388" y2="5654"/><text class="c" x="4314" y="5607">BDSSamplerInfo</text><text x="4248" y="5631">+ name<tspan x="4248" dy="15">+ pdgSetID</tspan></text><text x="4248" y="5654"><tspan x="4248" dy="15">+ BDSSamplerInfo()</tspan><tspan x="4248" dy="15">+ BDSSamplerInfo()</tspan><tspan x="4248" dy="15">+ ~BDSSamplerInfo()</tspan><tspan x="4248" dy="15">+ BDSSamplerInfo()</tspan><tspan x="4248" dy="15">+ operator=()</tspan></text></g>
<g id="map_elements"><rect x="4432" y="5619" width="178" height="92"/><line x1="4432" y1="5660" x2="4610" y2="5660"/><line x1="4432" y1="5684" x2="4610" y2="5684"/><text class="c" x="4521" y="5636">std::map&lt; G4String,</text><text class="c" x="4521" y="5651">BDSBeamlineElement * &gt;</text><text x="4440" y="5675">+ keys</text></g>
<g id="vector_elements"><rect x="4633" y="5619" width="178" height="92"/><line x1="4633" y1="5660" x2="4811" y2="5660"/><line x1="4633" y1="5684" x2="4811" y2="5684"/><text class="c" x="4722" y="5636">std::vector&lt; BDSBeamline</text><text class="c" x="4722" y="5651">Element * &gt;</text></g>
<g id="vector_G4double"><rect x="4835" y="5627" width="162" height="77"/><line x1="4835" y1="5653" x2="4997" y2="5653"/><line x1="4835" y1="5676" x2="4997" y2="5676"/><text class="c" x="4916" y="5644">std::vector&lt; G4double &gt;</text><text x="4843" y="5668">+ elements</text></g>

<g id="BDSBeamline" class="gr"><rect x="4617" y="5805" width="210" height="633"/><line x1="4617" y1="5831" x2="4827" y2="5831"/><line x1="4617" y1="6019" x2="4827" y2="6019"/><text class="c" x="4722" y="5822">BDSBeamline</text><text x="4625" y="5831"><tspan x="4625" dy="15">- sInitial</tspan><tspan x="4625" dy="15">- sMaximum</tspan><tspan x="4625" dy="15">- totalChordLength</tspan><tspan x="4625" dy="15">- totalArcLength</tspan><tspan x="4625" dy="15">- totalAngle</tspan><tspan x="4625" dy="15">- maximumExtentPositive</tspan><tspan x="4625" dy="15">- maximumExtentNegative</tspan><tspan x="4625" dy="15">- previousReferenceRotationEnd</tspan><tspan x="4625" dy="15">- previousReferencePositionEnd</tspan><tspan x="4625" dy="15">- previousSPositionEnd</tspan><tspan x="4625" dy="15">- transformHasJustBeenApplied</tspan><tspan x="4625" dy="15">- paddingLength</tspan></text><text x="4625" y="6019"><tspan x="4625" dy="15">+ operator=()</tspan><tspan x="4625" dy="15">+ BDSBeamline()</tspan><tspan x="4625" dy="15">+ BDSBeamline()</tspan><tspan x="4625" dy="15">+ BDSBeamline()</tspan><tspan x="4625" dy="15">+ ~BDSBeamline()</tspan><tspan x="4625" dy="15">+ AddComponent()</tspan><tspan x="4625" dy="15">+ ApplyTransform3D()</tspan><tspan x="4625" dy="15">+ AddBeamlineElement()</tspan><tspan x="4625" dy="15">+ PrintAllComponents()</tspan><tspan x="4625" dy="15">+ UpdateExtents()</tspan><tspan x="4625" dy="15">and 33 more...</tspan><tspan x="4625" dy="15">+ PaddingLength()</tspan><tspan x="4625" dy="15">- AddSingleComponent()</tspan><tspan x="4625" dy="15">- RegisterElement()</tspan><tspan x="4625" dy="15">* iterator</tspan><tspan x="4625" dy="15">* const_iterator</tspan><tspan x="4625" dy="15">* reverse_iterator</tspan><tspan x="4625" dy="15">* const_reverse_iterator</tspan><tspan x="4625" dy="15">* begin()</tspan><tspan x="4625" dy="15">* end()</tspan><tspan x="4625" dy="15">* begin()</tspan><tspan x="4625" dy="15">* end()</tspan><tspan x="4625" dy="15">* rbegin()</tspan><tspan x="4625" dy="15">* rend()</tspan><tspan x="4625" dy="15">* rbegin()</tspan><tspan x="4625" dy="15">* rend()</tspan><tspan x="4625" dy="15">* empty()</tspan></text></g>
</svg>
